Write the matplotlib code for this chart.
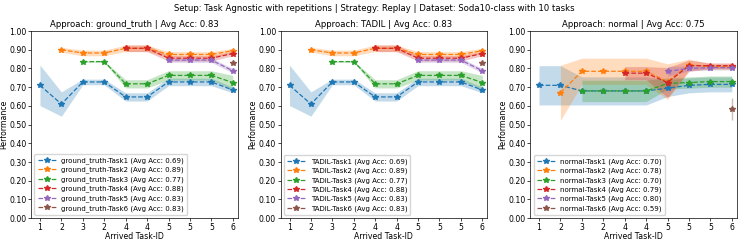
import numpy as np
import matplotlib
matplotlib.use("Agg")
import matplotlib.pyplot as plt

# x positions are the 10 experiences; tick labels show the arrived task id
tick_labels = ["1", "2", "3", "2", "4", "4", "5", "5", "5", "6"]
task_start = [0, 1, 2, 4, 6, 9]

# ground_truth / TADIL (identical)
gt_means = [
    [0.71, 0.61, 0.728, 0.728, 0.648, 0.648, 0.728, 0.728, 0.728, 0.685],
    [0.90, 0.883, 0.883, 0.908, 0.908, 0.875, 0.875, 0.875, 0.895],
    [0.837, 0.837, 0.718, 0.718, 0.763, 0.763, 0.763, 0.725],
    [0.908, 0.908, 0.855, 0.855, 0.855, 0.88],
    [0.845, 0.845, 0.845, 0.788],
    [0.832],
]
gt_stds = [
    [0.108, 0.065, 0.015, 0.015, 0.022, 0.022, 0.02, 0.02, 0.02, 0.015],
    [0.013, 0.015, 0.015, 0.017, 0.017, 0.015, 0.015, 0.015, 0.013],
    [0.004, 0.004, 0.022, 0.022, 0.025, 0.025, 0.025, 0.038],
    [0.018, 0.018, 0.015, 0.015, 0.015, 0.012],
    [0.012, 0.012, 0.012, 0.012],
    [0.0],
]
gt_acc = [0.69, 0.89, 0.77, 0.88, 0.83, 0.83]

# normal
nm_means = [
    [0.71, 0.71, 0.68, 0.68, 0.68, 0.68, 0.695, 0.71, 0.715, 0.715],
    [0.67, 0.785, 0.785, 0.785, 0.785, 0.73, 0.82, 0.81, 0.81],
    [0.68, 0.68, 0.68, 0.68, 0.72, 0.725, 0.73, 0.73],
    [0.775, 0.775, 0.725, 0.815, 0.815, 0.815],
    [0.785, 0.80, 0.805, 0.805],
    [0.585],
]
nm_stds = [
    [0.105, 0.105, 0.075, 0.075, 0.075, 0.075, 0.045, 0.04, 0.04, 0.04],
    [0.147, 0.07, 0.07, 0.07, 0.07, 0.095, 0.03, 0.015, 0.015],
    [0.057, 0.057, 0.057, 0.057, 0.03, 0.03, 0.03, 0.03],
    [0.035, 0.035, 0.08, 0.03, 0.015, 0.015],
    [0.027, 0.013, 0.013, 0.013],
    [0.058],
]
nm_acc = [0.70, 0.78, 0.70, 0.79, 0.80, 0.59]

panels = [
    ("ground_truth", 0.83, gt_means, gt_stds, gt_acc),
    ("TADIL", 0.83, gt_means, gt_stds, gt_acc),
    ("normal", 0.75, nm_means, nm_stds, nm_acc),
]

colors = plt.rcParams["axes.prop_cycle"].by_key()["color"]

fig, axes = plt.subplots(1, 3, figsize=(7.48, 2.41), dpi=100)
fig.subplots_adjust(left=0.0414, right=0.985, top=0.871, bottom=0.095, wspace=0.207)
fig.suptitle("Setup: Task Agnostic with repetitions | Strategy: Replay | Dataset: Soda10-class with 10 tasks",
             fontsize=6.1, y=0.985)

yt = np.arange(0, 1.01, 0.1)
for ax, (name, avg, means, stds, accs) in zip(axes, panels):
    for i in range(6):
        m = np.array(means[i])
        s = np.array(stds[i])
        x = np.arange(task_start[i], task_start[i] + len(m))
        c = colors[i]
        ax.plot(x, m, "--", marker="*", color=c, lw=0.9, ms=4,
                label=f"{name}-Task{i + 1} (Avg Acc: {accs[i]:.2f})")
        if len(m) > 1:
            ax.fill_between(x, m - s, m + s, color=c, alpha=0.27, lw=0)
        elif s[0] > 0:
            ax.vlines(x, m - s, m + s, color=c, alpha=0.4, lw=1)
    ax.set_title(f"Approach: {name} | Avg Acc: {avg:.2f}", fontsize=6.1, pad=3)
    ax.set_ylim(0, 1)
    ax.set_yticks(yt)
    ax.set_yticklabels([f"{v:.2f}" for v in yt])
    ax.set_xticks(range(10))
    ax.set_xticklabels(tick_labels)
    ax.set_xlim(-0.42, 9.23)
    ax.tick_params(labelsize=5.6, length=2, pad=1.2, width=0.5)
    for sp in ax.spines.values():
        sp.set_linewidth(0.5)
    ax.set_ylabel("Performance", fontsize=5.6, labelpad=1)
    ax.set_xlabel("Arrived Task-ID", fontsize=5.6, labelpad=0.5)
    ax.legend(loc="lower left", fontsize=5, handlelength=2.6, borderpad=0.45, labelspacing=0.4)

fig.savefig("out.png", dpi=100)
